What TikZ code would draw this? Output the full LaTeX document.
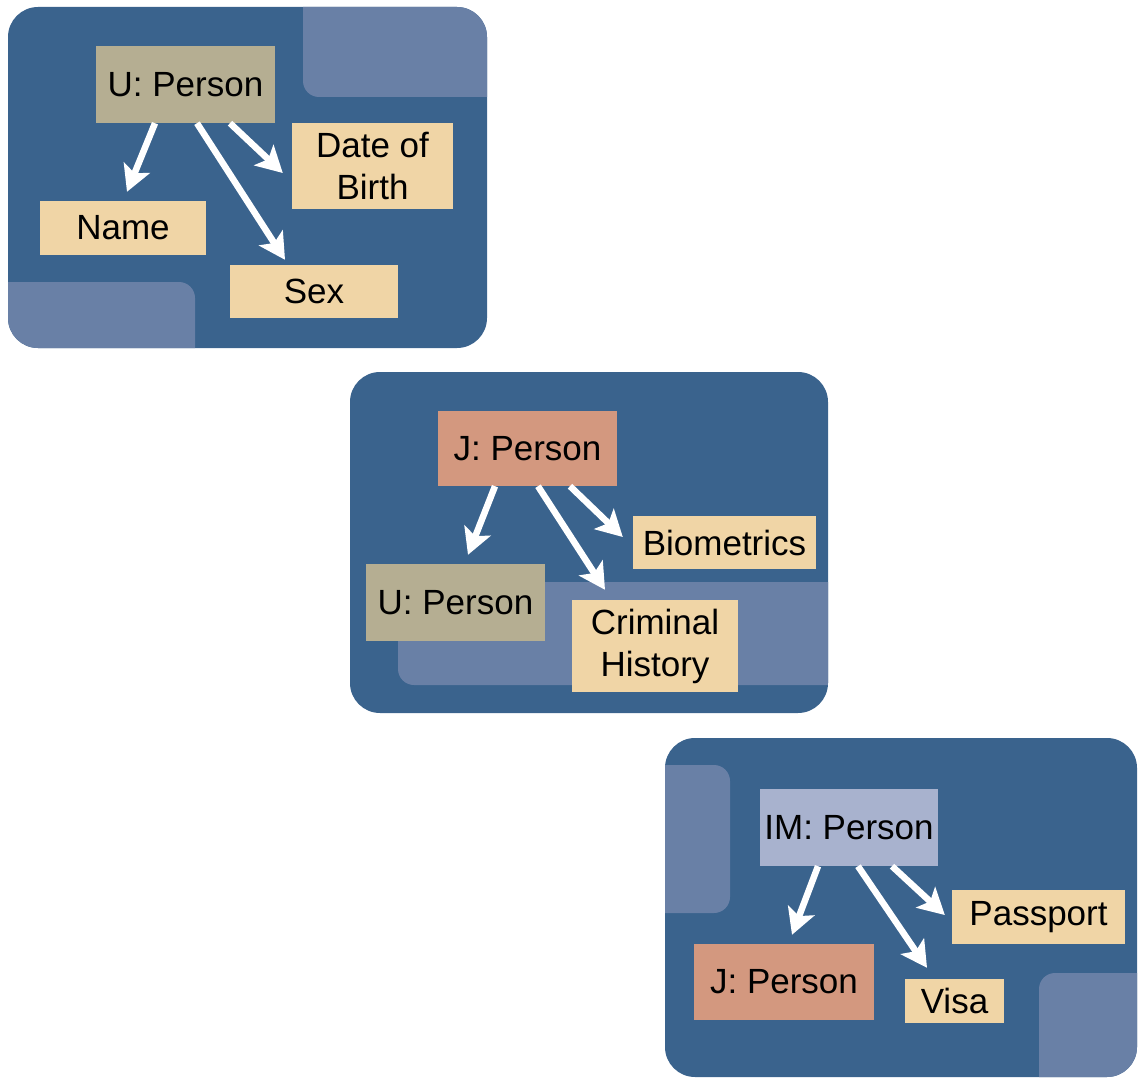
\documentclass[tikz,border=0pt]{standalone}
\usepackage{fontspec}
\setmainfont{Liberation Sans}
\usetikzlibrary{arrows.meta}
\definecolor{panelblue}{RGB}{58,99,141}
\definecolor{patchblue}{RGB}{105,128,166}
\definecolor{khaki}{RGB}{181,174,146}
\definecolor{wheat}{RGB}{240,213,166}
\definecolor{salmon}{RGB}{211,152,127}
\definecolor{lavender}{RGB}{168,178,206}
\tikzset{
  panel/.style={fill=panelblue, rounded corners=30pt},
  patch/.style={fill=patchblue, rounded corners=16pt},
  box/.style={rectangle, inner sep=0pt, align=center, text=black,
    font=\fontsize{35}{42}\selectfont},
  attr/.style={box, fill=wheat},
  upers/.style={box, fill=khaki},
  jpers/.style={box, fill=salmon},
  impers/.style={box, fill=lavender},
  arr/.style={draw=white, line width=6.5pt,
    -{Stealth[length=26pt,width=28pt,inset=6pt]}}
}
\begin{document}
\begin{tikzpicture}[x=1pt,y=-1pt]
\useasboundingbox (0,0) rectangle (1138,1078);

% ---------- Panel 1 ----------
\path[panel] (8,7) rectangle (487,348);
\begin{scope}
  \clip[rounded corners=30pt] (8,7) rectangle (487,348);
  \fill[patch] (303,-40) rectangle (540,97);
  \fill[patch] (-40,282) rectangle (195,400);
\end{scope}
\node[upers, minimum width=179pt, minimum height=77pt] (U1) at (185.5,84.5) {U: Person};
\node[attr, minimum width=161pt, minimum height=86pt] (DoB) at (372.5,166) {Date of\\Birth};
\node[attr, minimum width=166pt, minimum height=54pt] (Name) at (123,228) {Name};
\node[attr, minimum width=168pt, minimum height=53pt] (Sex) at (314,291.5) {Sex};
\draw[arr] ([xshift=-30.5pt]U1.south) -- ([xshift=4pt,yshift=9pt]Name.north);
\draw[arr] ([xshift=11.5pt]U1.south) -- ([xshift=-29pt,yshift=5pt]Sex.north);
\draw[arr] ([xshift=44.5pt]U1.south) -- ([xshift=-9pt,yshift=-7pt]DoB.west);

% ---------- Panel 2 ----------
\path[panel] (350,372) rectangle (828,713);
\begin{scope}
  \clip[rounded corners=30pt] (350,372) rectangle (828,713);
  \fill[patch] (398,582) rectangle (880,685);
\end{scope}
\node[jpers, minimum width=179pt, minimum height=75pt] (J2) at (527.5,448.5) {J: Person};
\node[attr, minimum width=183pt, minimum height=53pt] (Bio) at (724.5,542.5) {Biometrics};
\node[upers, minimum width=179pt, minimum height=77pt] (U2) at (455.5,602.5) {U: Person};
\node[attr, minimum width=166pt, minimum height=92pt] (Crim) at (655,646) {Criminal\\History};
\draw[arr] ([xshift=-32.5pt]J2.south) -- ([xshift=12.5pt,yshift=9pt]U2.north);
\draw[arr] ([xshift=10.5pt]J2.south) -- ([xshift=-50pt,yshift=10pt]Crim.north);
\draw[arr] ([xshift=42.5pt]J2.south) -- ([xshift=-10pt,yshift=5.5pt]Bio.west);

% ---------- Panel 3 ----------
\path[panel] (665,738) rectangle (1137,1077);
\begin{scope}
  \clip[rounded corners=30pt] (665,738) rectangle (1137,1077);
  \fill[patch] (620,765) rectangle (730,913);
  \fill[patch] (1039,973) rectangle (1200,1120);
\end{scope}
\node[impers, minimum width=178pt, minimum height=77pt] (IM) at (849,827.5) {IM: Person};
\node[attr, minimum width=173pt, minimum height=54pt] (Pass) at (1038.5,917) {Passport};
\node[jpers, minimum width=180pt, minimum height=76pt] (J3) at (784,982) {J: Person};
\node[attr, minimum width=99pt, minimum height=44pt] (Visa) at (954.5,1001) {Visa};
\draw[arr] ([xshift=-31pt]IM.south) -- ([xshift=8pt,yshift=9pt]J3.north);
\draw[arr] ([xshift=9pt]IM.south) -- ([xshift=-27.5pt,yshift=11pt]Visa.north);
\draw[arr] ([xshift=43pt]IM.south) -- ([xshift=-7pt,yshift=2pt]Pass.west);
\end{tikzpicture}
\end{document}
